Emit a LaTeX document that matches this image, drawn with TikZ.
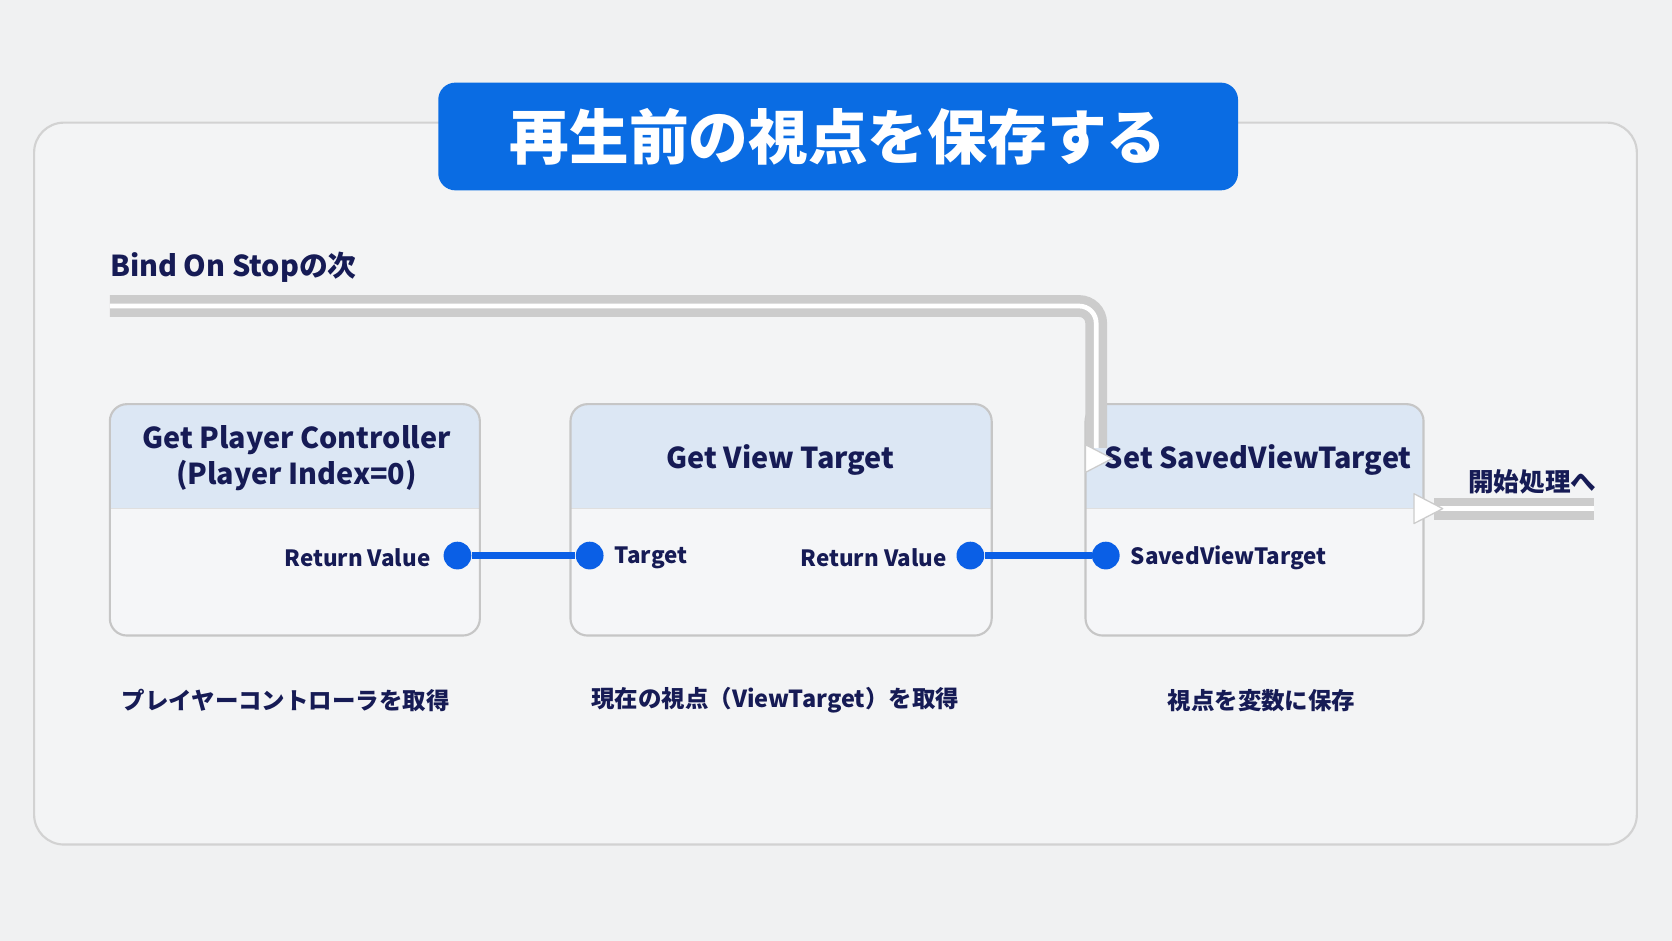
\documentclass[tikz,border=0pt]{standalone}
\usepackage{fontspec}
\setmainfont{Noto Sans CJK JP}
\begin{document}
\begin{tikzpicture}[x=0.5pt,y=-0.5pt,
  pin/.style={circle,fill=pinc,minimum size=13pt,inner sep=0pt},
  wire/.style={draw=pinc,line width=3pt},
  pintxt/.style={text=navyc,font=\fontsize{10.5}{12}\selectfont\bfseries,inner sep=0pt},
  ttl/.style={text=navyc,font=\fontsize{13.5}{17}\selectfont\bfseries,align=center},
  captxt/.style={text=navyc,font=\fontsize{11}{13}\selectfont\bfseries},
  exec/.style={draw=gray!40,line width=4pt,double=white,double distance=2.2pt,rounded corners=8},
  tri/.style={draw=gray!40,fill=white,line width=0.6pt,line join=round}]
\definecolor{bgc}{HTML}{F0F1F2}
\definecolor{panelc}{HTML}{F3F4F5}
\definecolor{navyc}{HTML}{161B55}
\definecolor{headc}{HTML}{DCE7F4}
\definecolor{bodyc}{HTML}{F5F6F8}
\definecolor{pinc}{HTML}{0A5FE6}
\definecolor{titlec}{HTML}{0A6CE3}
\fill[bgc] (0,0) rectangle (1568,882);
\useasboundingbox (0,0) rectangle (1568,882);
\draw[draw=gray!35,fill=panelc,line width=1pt,rounded corners=14] (32,115) rectangle (1535,792);
\node[fill=titlec,rounded corners=8,minimum width=375pt,minimum height=50.5pt,text=white,font=\fontsize{28}{32}\selectfont\bfseries] (title) at (786,128) {再生前の視点を保存する};
\node[anchor=west,text=navyc,font=\fontsize{13.5}{16}\selectfont\bfseries,inner sep=0pt] (bind) at (103,251) {Bind On Stopの次};
% nodes
\foreach \n/\a/\b in {n1/103/450,n2/535/930,n3/1018/1335}{
  \begin{scope}
  \clip[rounded corners=8] (\a,379) rectangle (\b,596);
  \fill[bodyc] (\a,379) rectangle (\b,596);
  \fill[headc] (\a,379) rectangle (\b,477);
  \draw[gray!25,line width=0.6pt] (\a,477) -- (\b,477);
  \end{scope}
  \draw[draw=gray!45,line width=1pt,rounded corners=8] (\a,379) rectangle (\b,596);
}
\node[ttl] (t1) at (278,430) {Get Player Controller\\(Player Index=0)};
\node[ttl] (t2) at (732,431) {Get View Target};
\node[ttl] (t3) at (1180,431) {Set SavedViewTarget};
% exec
\coordinate (es) at (103,287);
\coordinate (ein) at (1020,430);
\draw[exec] (es) -- (1028,287) -- (1028,420);
\draw[tri] (1018,417) -- (1043,430) -- (1018,443) -- cycle;
\coordinate (eend) at (1495,477);
\draw[exec,rounded corners=0] (1345,477) -- (eend);
\draw[tri] (1326,463) -- (1353,477) -- (1326,491) -- cycle;
\node[text=navyc,font=\fontsize{12}{14}\selectfont\bfseries] (go) at (1437,452) {開始処理へ};
% pins
\node[pin] (p1) at (429,521) {};
\node[pin] (p2) at (553,521) {};
\node[pin] (p3) at (910,521) {};
\node[pin] (p4) at (1037,521) {};
\draw[wire] (p1) -- (p2);
\draw[wire] (p3) -- (p4);
\node[pintxt,anchor=east] (l1) at (404,523) {Return Value};
\node[pintxt,anchor=west] (l2) at (576,523) {Target};
\node[pintxt,anchor=east] (l3) at (888,523) {Return Value};
\node[pintxt,anchor=west] (l4) at (1060,523) {SavedViewTarget};
% captions
\node[captxt] (c1) at (268,657) {プレイヤーコントローラを取得};
\node[captxt] (c2) at (727,657) {現在の視点（ViewTarget）を取得};
\node[captxt] (c3) at (1183,657) {視点を変数に保存};
\end{tikzpicture}
\end{document}
